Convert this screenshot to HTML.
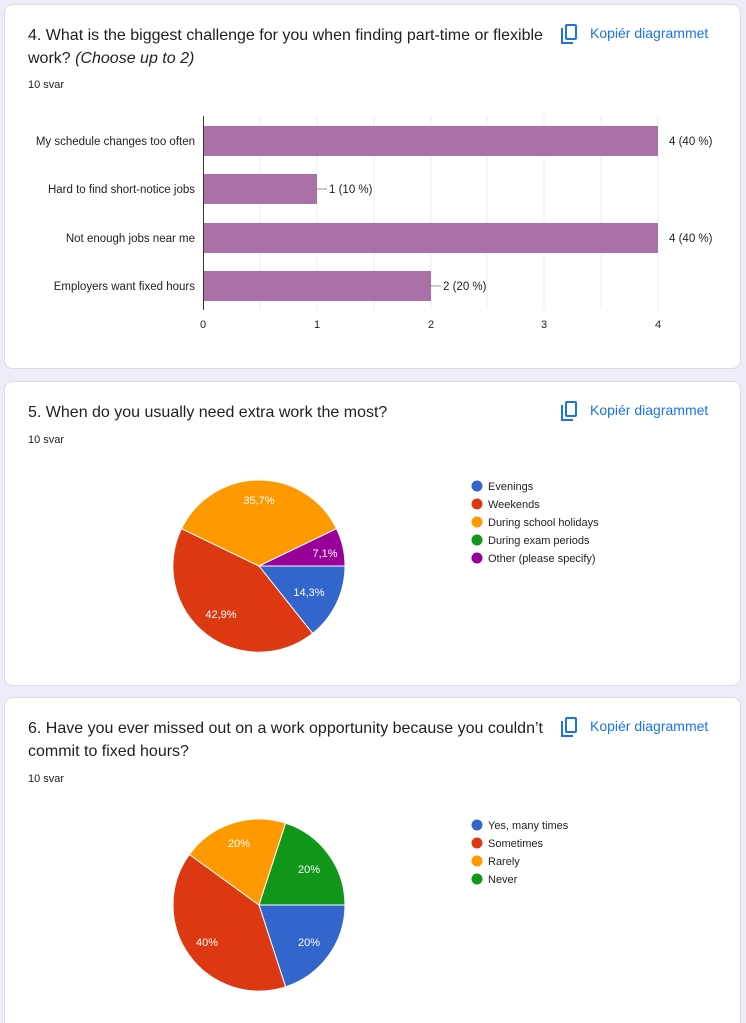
<!DOCTYPE html>
<html><head><meta charset="utf-8"><style>
body{margin:0;background:#f0ebf8;}
svg{display:block;font-family:"Liberation Sans",Arial,sans-serif;}
</style></head><body>
<svg width="746" height="1023" viewBox="0 0 746 1023">
<rect width="746" height="1023" fill="#f0ebf8"/>
<g fill="#fff" stroke="#dadce0">
<rect x="4.5" y="4.5" width="736" height="364" rx="8"/>
<rect x="4.5" y="381.5" width="736" height="304" rx="8"/>
<rect x="4.5" y="697.5" width="736" height="340" rx="8"/>
</g>
<g font-size="16" fill="#202124">
<text x="28" y="40">4. What is the biggest challenge for you when finding part-time or flexible</text>
<text x="28" y="63">work? <tspan font-style="italic">(Choose up to 2)</tspan></text>
<text x="28" y="417">5. When do you usually need extra work the most?</text>
<text x="28" y="733">6. Have you ever missed out on a work opportunity because you couldn’t</text>
<text x="28" y="756">commit to fixed hours?</text>
</g>
<g font-size="11" fill="#202124">
<text x="28" y="88">10 svar</text><text x="28" y="443">10 svar</text><text x="28" y="782">10 svar</text>
</g>
<g fill="#1a73e8" font-size="14">
<text x="590" y="38">Kopiér diagrammet</text>
<text x="590" y="415">Kopiér diagrammet</text>
<text x="590" y="731">Kopiér diagrammet</text>
</g>
<g fill="none" stroke="#1a73e8" stroke-width="2">
<path d="M562 28v15h11"/><rect x="566" y="25" width="10" height="14" rx="1"/>
<path d="M562 405v15h11"/><rect x="566" y="402" width="10" height="14" rx="1"/>
<path d="M562 721v15h11"/><rect x="566" y="718" width="10" height="14" rx="1"/>
</g>
<g stroke="#eeeeee"><path d="M260 116v194M317 116v194M374 116v194M431 116v194M487 116v194M544 116v194M601 116v194M658 116v194"/></g>
<g fill="#aa71a8">
<rect x="203" y="126" width="455" height="30"/>
<rect x="203" y="174" width="114" height="30"/>
<rect x="203" y="223" width="455" height="30"/>
<rect x="203" y="271" width="228" height="30"/>
</g>
<path d="M203.5 116v194" stroke="#333"/>
<g stroke="#999"><path d="M317 189h10M431 286h10"/></g>
<g font-size="11.5" fill="#222">
<text x="195" y="145" text-anchor="end">My schedule changes too often</text>
<text x="195" y="193" text-anchor="end">Hard to find short-notice jobs</text>
<text x="195" y="242" text-anchor="end">Not enough jobs near me</text>
<text x="195" y="290" text-anchor="end">Employers want fixed hours</text>
<text x="669" y="145">4 (40 %)</text>
<text x="329" y="193">1 (10 %)</text>
<text x="669" y="242">4 (40 %)</text>
<text x="443" y="290">2 (20 %)</text>
</g>
<g font-size="11" fill="#222" text-anchor="middle"><text x="203" y="328">0</text><text x="317" y="328">1</text><text x="431" y="328">2</text><text x="544" y="328">3</text><text x="658" y="328">4</text></g>
<g stroke="#fff" stroke-width="1">
<path d="M259 566L345 566A86 86 0 0 1 312.6 633.4Z" fill="#3366cc"/>
<path d="M259 566L312.6 633.4A86 86 0 0 1 181.5 528.7Z" fill="#dc3912"/>
<path d="M259 566L181.5 528.7A86 86 0 0 1 336.5 528.7Z" fill="#ff9900"/>
<path d="M259 566L336.5 528.7A86 86 0 0 1 345 566Z" fill="#990099"/>
</g>
<g font-size="11" fill="#fff" text-anchor="middle">
<text x="309" y="596">14,3%</text><text x="221" y="618">42,9%</text><text x="259" y="504">35,7%</text><text x="325" y="557">7,1%</text>
</g>
<g stroke="#fff" stroke-width="1">
<path d="M259 905L345 905A86 86 0 0 1 285.6 986.8Z" fill="#3366cc"/>
<path d="M259 905L285.6 986.8A86 86 0 0 1 189.4 854.5Z" fill="#dc3912"/>
<path d="M259 905L189.4 854.5A86 86 0 0 1 285.6 823.2Z" fill="#ff9900"/>
<path d="M259 905L285.6 823.2A86 86 0 0 1 345 905Z" fill="#109618"/>
</g>
<g font-size="11" fill="#fff" text-anchor="middle">
<text x="309" y="946">20%</text><text x="207" y="946">40%</text><text x="239" y="847">20%</text><text x="309" y="873">20%</text>
</g>
<g font-size="11" fill="#222">
<circle cx="477" cy="486" r="5.5" fill="#3366cc"/><text x="488" y="490">Evenings</text>
<circle cx="477" cy="504" r="5.5" fill="#dc3912"/><text x="488" y="508">Weekends</text>
<circle cx="477" cy="522" r="5.5" fill="#ff9900"/><text x="488" y="526">During school holidays</text>
<circle cx="477" cy="540" r="5.5" fill="#109618"/><text x="488" y="544">During exam periods</text>
<circle cx="477" cy="558" r="5.5" fill="#990099"/><text x="488" y="562">Other (please specify)</text>
<circle cx="477" cy="825" r="5.5" fill="#3366cc"/><text x="488" y="829">Yes, many times</text>
<circle cx="477" cy="843" r="5.5" fill="#dc3912"/><text x="488" y="847">Sometimes</text>
<circle cx="477" cy="861" r="5.5" fill="#ff9900"/><text x="488" y="865">Rarely</text>
<circle cx="477" cy="879" r="5.5" fill="#109618"/><text x="488" y="883">Never</text>
</g>
</svg>
</body></html>
